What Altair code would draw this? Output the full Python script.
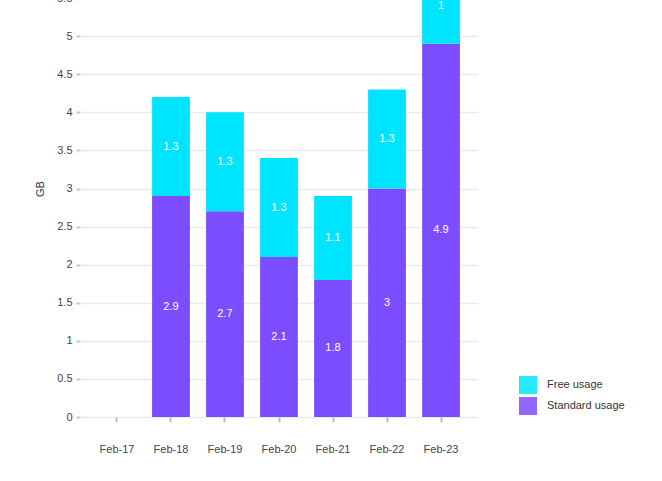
import altair as alt
import pandas as pd

months = ["Feb-17", "Feb-18", "Feb-19", "Feb-20", "Feb-21", "Feb-22", "Feb-23"]
data_months = ["Feb-18", "Feb-19", "Feb-20", "Feb-21", "Feb-22", "Feb-23"]
standard = [2.9, 2.7, 2.1, 1.8, 3.0, 4.9]
free = [1.3, 1.3, 1.3, 1.1, 1.3, 1.0]
series = ["Free usage", "Standard usage"]
colors = ["#00E5FF", "#7C4DFF"]
y_ticks = [0, 0.5, 1, 1.5, 2, 2.5, 3, 3.5, 4, 4.5, 5, 5.5, 6]

rows = []
for m, s, f in zip(data_months, standard, free):
    rows.append({"month": m, "series": "Standard usage", "value": s, "ord": 0})
    rows.append({"month": m, "series": "Free usage", "value": f, "ord": 1})
df = pd.DataFrame(rows)

FONT = "Liberation Sans"

x_scale = alt.Scale(domain=months, paddingInner=0.3, paddingOuter=0.335)
x_axis = alt.Axis(
    title=None, labelAngle=0, domain=False, grid=False,
    ticks=True, tickSize=5, tickColor="#bdbdbd", tickWidth=2,
    labelPadding=21, labelFont=FONT, labelFontSize=11, labelColor="#444444",
)
y_scale = alt.Scale(domain=[0, 6], nice=False)
y_axis = alt.Axis(
    title="GB", values=y_ticks, format="~g", labelOverlap=False,
    domain=False, grid=True, gridColor="#ebebeb", gridWidth=1.5,
    ticks=True, tickSize=4, tickColor="#c8c8c8", tickWidth=2,
    labelPadding=4, labelFont=FONT, labelFontSize=11, labelColor="#444444",
    titleFont=FONT, titleFontSize=11, titleFontWeight="normal",
    titleColor="#333333", titlePadding=11,
)

base = alt.Chart(df).transform_stack(
    stack="value", groupby=["month"], as_=["y0", "y1"],
    sort=[alt.SortField("ord", order="ascending")],
).transform_calculate(mid="(datum.y0 + datum.y1) / 2")

bars = base.mark_bar().encode(
    x=alt.X("month:N", scale=x_scale, axis=x_axis),
    y=alt.Y("y0:Q", scale=y_scale, axis=y_axis),
    y2="y1:Q",
    color=alt.Color(
        "series:N",
        scale=alt.Scale(domain=series, range=colors),
        legend=alt.Legend(
            title=None, orient="none", legendX=439, legendY=416,
            symbolType="square", symbolSize=324, symbolStrokeWidth=0,
            symbolOpacity=0.85, rowPadding=3, labelOffset=10,
            labelFont=FONT, labelFontSize=11, labelColor="#333333",
        ),
    ),
)

labels = base.mark_text(
    color="white", font=FONT, fontSize=11, baseline="middle", align="center"
).encode(
    x=alt.X("month:N", scale=x_scale, axis=x_axis),
    y=alt.Y("mid:Q", scale=y_scale, axis=y_axis),
    text=alt.Text("value:Q"),
)

chart = alt.layer(bars, labels).properties(
    width=398, height=457,
    background="white",
    autosize=alt.AutoSizeParams(type="none"),
    padding={"left": 80, "top": -40, "right": 184, "bottom": 64},
).configure_view(stroke=None)

chart.save("out.html", embed_options={"renderer": "svg", "actions": False})
